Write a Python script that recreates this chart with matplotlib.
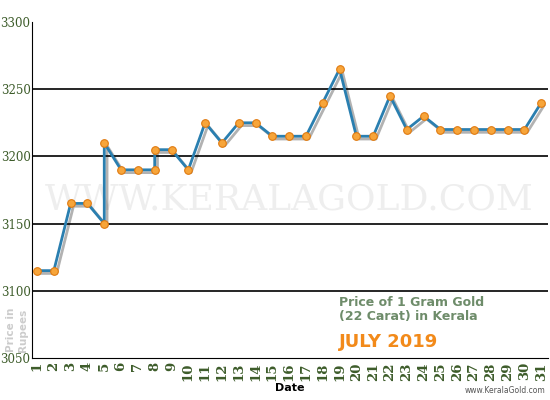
import matplotlib
matplotlib.use("Agg")
import matplotlib.pyplot as plt
import matplotlib.patheffects as pe

days = [1, 2, 3, 4, 5, 5, 6, 7, 8, 8, 9, 10, 11, 12, 13, 14, 15, 16, 17, 18, 19, 20, 21, 22, 23, 24, 25, 26, 27, 28, 29, 30, 31]
prices = [3115, 3115, 3165, 3165, 3150, 3210, 3190, 3190, 3190, 3205, 3205, 3190, 3225, 3210, 3225, 3225, 3215, 3215, 3215, 3240, 3265, 3215, 3215, 3245, 3220, 3230, 3220, 3220, 3220, 3220, 3220, 3220, 3240]
yticks = [3050, 3100, 3150, 3200, 3250, 3300]

green = "#3d5c2a"
fig = plt.figure(figsize=(5.5, 4), dpi=100)
ax = fig.add_axes([32/550, 42/400, 516/550, 336/400])
ax.set_xlim(0.7, 31.4)
ax.set_ylim(3050, 3300)
for y in yticks[1:-1]:
    ax.axhline(y, color="black", lw=1.2, zorder=1)
ax.text(16, 3168, "WWW.KERALAGOLD.COM", color="#eeeeee", fontsize=26, family="DejaVu Serif",
        ha="center", va="center", zorder=0)
ax.plot(days, prices, color="#2a7fb0", lw=2, zorder=3,
        path_effects=[pe.SimpleLineShadow(offset=(2, -2), alpha=0.3), pe.Normal()])
ax.plot(days, prices, ls="none", zorder=4,
        marker="o", ms=5.5, mfc="#f7a53a", mec="#e07a10", mew=0.8)
ax.set_yticks(yticks)
ax.set_yticklabels([str(v) for v in yticks], family="DejaVu Serif", color=green, fontsize=8.5)
ax.set_xticks(range(1, 32))
ax.set_xticklabels([str(d) for d in range(1, 32)], rotation=90, family="DejaVu Serif",
                   color=green, fontsize=9.5, fontweight="bold")
ax.tick_params(axis="x", length=0, pad=3)
ax.tick_params(axis="y", length=0, pad=1)
for s in ["top", "right"]:
    ax.spines[s].set_visible(False)
ax.spines["left"].set_color("black")
ax.spines["bottom"].set_color("black")
ax.set_xlabel("Date", fontsize=8, fontweight="bold", color="black", labelpad=2)
fig.text(17/550, 1 - 330/400, "Price in\nRupees", rotation=90, fontsize=7.5, fontweight="bold",
         color="#cccccc", ha="center", va="center")
ax.text(0.595, 0.185, "Price of 1 Gram Gold\n(22 Carat) in Kerala", transform=ax.transAxes,
        fontsize=9, fontweight="bold", color="#6e8c6a", va="top", linespacing=1.1)
ax.text(0.595, 0.048, "JULY 2019", transform=ax.transAxes, fontsize=13, fontweight="bold",
        color="#f28a1a", va="center")
fig.text(545/550, 5/400, "www.KeralaGold.com", fontsize=5.5, color="#555555", ha="right", va="bottom")
fig.savefig("out.png", dpi=100)
